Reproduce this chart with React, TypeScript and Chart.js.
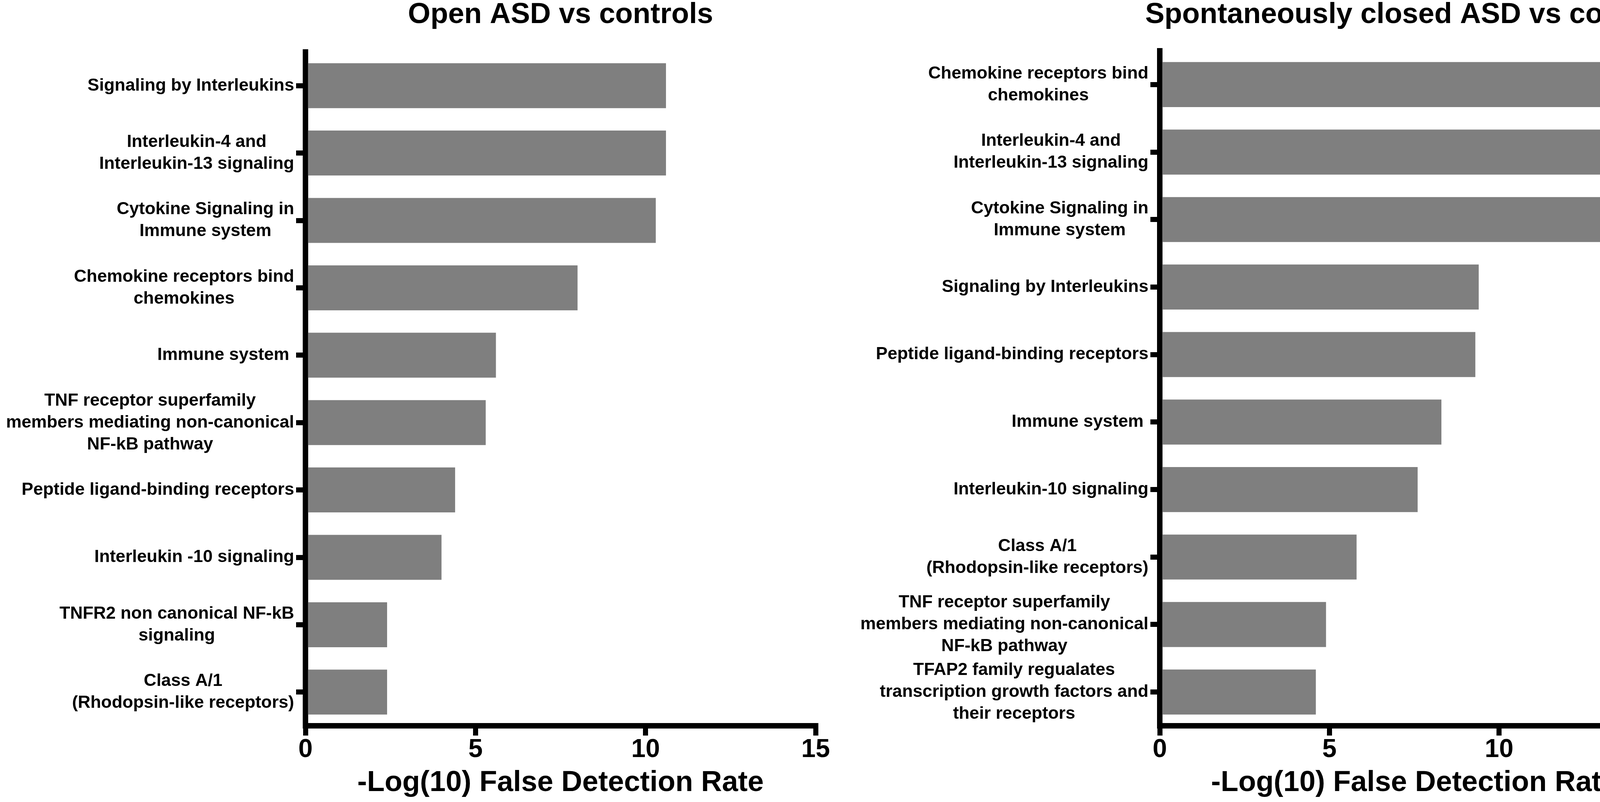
import React, { useEffect, useRef } from 'react';
import { Chart, registerables } from 'chart.js';

Chart.register(...registerables);

// ---------- data ----------
const openTitle = 'Open ASD vs controls';
const openCategories: (string | string[])[] = [
  'Signaling by Interleukins',
  ['Interleukin-4 and', 'Interleukin-13 signaling'],
  ['Cytokine Signaling in', 'Immune system'],
  ['Chemokine receptors bind', 'chemokines'],
  'Immune system ',
  ['TNF receptor superfamily', 'members mediating non-canonical', 'NF-kB pathway'],
  'Peptide ligand-binding receptors',
  'Interleukin -10 signaling',
  ['TNFR2 non canonical NF-kB', 'signaling'],
  ['Class A/1', '(Rhodopsin-like receptors)'],
];
const openValues = [10.6, 10.6, 10.3, 8.0, 5.6, 5.3, 4.4, 4.0, 2.4, 2.4];

const closedTitle = 'Spontaneously closed ASD vs controls';
const closedCategories: (string | string[])[] = [
  ['Chemokine receptors bind', 'chemokines'],
  ['Interleukin-4 and', 'Interleukin-13 signaling'],
  ['Cytokine Signaling in', 'Immune system'],
  'Signaling by Interleukins',
  'Peptide ligand-binding receptors',
  'Immune system ',
  'Interleukin-10 signaling',
  ['Class A/1', '(Rhodopsin-like receptors)'],
  ['TNF receptor superfamily', 'members mediating non-canonical', 'NF-kB pathway'],
  ['TFAP2 family regualates', 'transcription growth factors and', 'their receptors'],
];
const closedValues = [13.9, 13.9, 13.2, 9.4, 9.3, 8.3, 7.6, 5.8, 4.9, 4.6];

const xTickValues = [0, 5, 10, 15];
const xAxisTitle = '-Log(10) False Detection Rate';

// ---------- style ----------
const FONT = '"Liberation Sans", Arial, Helvetica, sans-serif';
const BAR_COLOR = '#7f7f7f';
const Y_TICK_LEN = 24;
const Y_LABEL_PAD = 5;
const Y_LABEL_SIZE = 44.7;
const Y_LINE_HEIGHT = 56;
const TITLE_SIZE = 74;
const TITLE_CENTER_Y = 39;

type PanelProps = {
  title: string;
  categories: (string | string[])[];
  values: number[];
  yAxisWidth: number;
  chartTop: number;
  rightPad: number;
};

function Panel({ title, categories, values, yAxisWidth, chartTop, rightPad }: PanelProps) {
  const ref = useRef<HTMLCanvasElement>(null);

  useEffect(() => {
    if (!ref.current) return;
    const labelPlugin = {
      id: 'centeredYLabels',
      afterDraw(chart: any) {
        const ctx = chart.ctx;
        const yScale = chart.scales.y;
        ctx.save();
        ctx.font = `bold ${Y_LABEL_SIZE}px ${FONT}`;
        ctx.fillStyle = '#000';
        ctx.textAlign = 'center';
        ctx.textBaseline = 'middle';
        const right = yScale.right - Y_TICK_LEN - Y_LABEL_PAD;
        (chart.data.labels as (string | string[])[]).forEach((lab, i) => {
          const lines = Array.isArray(lab) ? lab : [lab];
          const py = yScale.getPixelForTick(i);
          const w = Math.max(...lines.map((l) => ctx.measureText(l).width));
          const cx = right - w / 2;
          lines.forEach((l, k) => {
            ctx.fillText(l, cx, py + (k - (lines.length - 1) / 2) * Y_LINE_HEIGHT);
          });
        });
        // panel title, centred over the plot area (may be wider than it)
        ctx.font = `bold ${TITLE_SIZE}px ${FONT}`;
        ctx.fillText(title, (chart.chartArea.left + chart.chartArea.right) / 2, TITLE_CENTER_Y);
        ctx.restore();
      },
    };

    const chart = new Chart(ref.current, {
      type: 'bar',
      data: {
        labels: categories as any,
        datasets: [
          {
            data: values,
            backgroundColor: BAR_COLOR,
            borderWidth: 0,
            barPercentage: 0.667,
            categoryPercentage: 1,
          },
        ],
      },
      plugins: [labelPlugin],
      options: {
        indexAxis: 'y',
        animation: false,
        responsive: true,
        maintainAspectRatio: false,
        layout: { padding: { left: 0, right: rightPad, top: chartTop, bottom: 0 } },
        plugins: {
          legend: { display: false },
          tooltip: { enabled: false },
          title: { display: false },
        },
        scales: {
          x: {
            type: 'linear',
            min: 0,
            max: 15,
            afterBuildTicks: (s: any) => {
              s.ticks = xTickValues.map((v) => ({ value: v }));
            },
            afterFit: (s: any) => {
              s.height = 195;
            },
            border: { display: true, color: '#000', width: 14 },
            grid: {
              display: true,
              drawOnChartArea: false,
              drawTicks: true,
              tickLength: 25,
              lineWidth: 13,
              tickWidth: 13,
              color: '#000',
              tickColor: '#000',
            },
            ticks: {
              color: '#000',
              padding: 0,
              maxRotation: 0,
              font: { family: FONT, size: 66, weight: 'bold', lineHeight: 1.1 },
            },
            title: {
              display: true,
              text: xAxisTitle,
              color: '#000',
              font: { family: FONT, size: 74, weight: 'bold', lineHeight: 1.2 },
              padding: { top: 0, bottom: 4 },
            },
          },
          y: {
            type: 'category',
            position: 'left',
            z: 1,
            afterFit: (s: any) => {
              s.width = yAxisWidth;
            },
            border: { display: true, color: '#000', width: 14 },
            grid: {
              display: true,
              offset: false,
              drawOnChartArea: false,
              drawTicks: true,
              tickLength: Y_TICK_LEN,
              lineWidth: 13,
              tickWidth: 13,
              color: '#000',
              tickColor: '#000',
            },
            ticks: { display: false },
          },
        },
      } as any,
    });
    return () => chart.destroy();
  }, [title, categories, values, yAxisWidth, chartTop, rightPad]);

  return <canvas ref={ref} />;
}

export default function App() {
  return (
    <div
      style={{
        position: 'absolute',
        left: 0,
        top: 0,
        width: 4317,
        height: 2052,
        background: '#fff',
        overflow: 'hidden',
      }}
    >
      <div style={{ position: 'absolute', left: 0, top: 0, width: 2150, height: 2052 }}>
        <Panel
          title={openTitle}
          categories={openCategories}
          values={openValues}
          yAxisWidth={782}
          chartTop={133}
          rightPad={62}
        />
      </div>
      <div style={{ position: 'absolute', left: 2150, top: 0, width: 2167, height: 2052 }}>
        <Panel
          title={closedTitle}
          categories={closedCategories}
          values={closedValues}
          yAxisWidth={819}
          chartTop={130}
          rightPad={45}
        />
      </div>
    </div>
  );
}
